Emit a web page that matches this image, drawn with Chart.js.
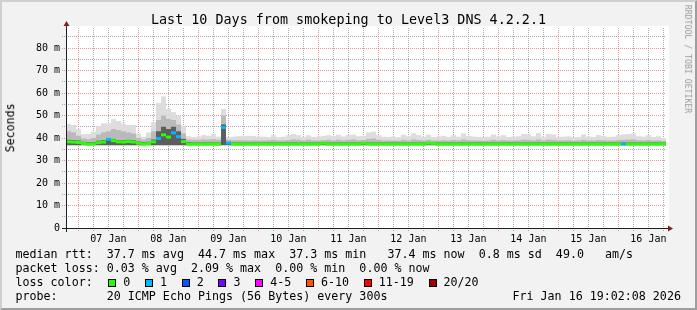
<!DOCTYPE html>
<html>
<head>
<meta charset="utf-8">
<script src="https://cdn.jsdelivr.net/npm/chart.js@4/dist/chart.umd.min.js"></script>
<style>
  body { margin: 0; background: #f2f2f2; }
  #wrap { position: relative; width: 697px; height: 310px; background: #f2f2f2; overflow: hidden; }
  #rrd { position: absolute; left: 0; top: 0; }
  #frame { position: absolute; left: 0; top: 0; width: 697px; height: 310px; box-sizing: border-box;
           border: 2px solid; border-color: #cfcfcf #9e9e9e #9e9e9e #cfcfcf; pointer-events: none; }
  .t { position: absolute; font-family: "DejaVu Sans Mono", monospace; font-size: 11.67px;
       line-height: 1; white-space: pre; color: #000; }
  .box { position: absolute; width: 8px; height: 8px; box-sizing: border-box; border: 1px solid #000; }
</style>
</head>
<body>
<div id="wrap">
  <canvas id="rrd" width="697" height="310"></canvas>
  <div class="t" style="left:0;top:12.7px;width:697px;text-align:center;font-size:13.4px">Last 10 Days from smokeping to Level3 DNS 4.2.2.1</div>
  <div class="t" style="left:-89px;top:122.2px;width:200px;text-align:center;transform:rotate(-90deg)">Seconds</div>
  <div class="t" style="left:587.8px;top:54.9px;width:200px;text-align:center;font-size:8.2px;color:#9a9a9a;transform:rotate(90deg)">RRDTOOL / TOBI OETIKER</div>
  <div class="t" style="left:15.5px;top:248.7px">median rtt:  37.7 ms avg  44.7 ms max  37.3 ms min   37.4 ms now  0.8 ms sd  49.0   am/s</div>
  <div class="t" style="left:15.5px;top:262.7px">packet loss: 0.03 % avg  2.09 % max  0.00 % min  0.00 % now</div>
  <div class="t" style="left:15.5px;top:276.7px">loss color:</div>
  <div id="lossLegend"></div>
  <div class="t" style="left:15.5px;top:290.7px">probe:       20 ICMP Echo Pings (56 Bytes) every 300s</div>
  <div class="t" style="left:512.5px;top:290.7px">Fri Jan 16 19:02:08 2026</div>
  <div id="frame"></div>
</div>
<script>
// 2 hour bins, starting Jan 6 19:02:08
const binHours = 2;
const firstMidnight = 4.964; // hours from start to Jan 7 00:00
const dayLabels = ['07 Jan', '08 Jan', '09 Jan', '10 Jan', '11 Jan', '12 Jan', '13 Jan', '14 Jan', '15 Jan', '16 Jan'];
const yTicks = [0, 10, 20, 30, 40, 50, 60, 70, 80];
const yMinorTicks = [5, 15, 25, 35, 45, 55, 65, 75, 85];
const yMax = 88.9;
const minRtt = 36.8;

// median rtt (ms)
const median = [
  38.3, 38.2, 38.0, 37.6, 37.3, 37.4, 37.9, 38.2, 39.4, 38.8,
  38.3, 38.2, 38.4, 38.2, 37.7, 37.4, 37.5, 38.3, 39.8, 41.4,
  40.4, 42.3, 40.6, 38.4, 37.3, 37.3, 37.3, 37.3, 37.3, 37.3,
  37.3, 44.7, 37.8, 37.3, 37.3, 37.3, 37.3, 37.3, 37.3, 37.3,
  37.3, 37.3, 37.3, 37.3, 37.3, 37.3, 37.3, 37.3, 37.3, 37.3,
  37.3, 37.7, 37.3, 37.3, 37.3, 37.3, 37.3, 37.3, 37.3, 37.7,
  37.3, 37.3, 37.3, 37.3, 37.3, 37.3, 37.3, 37.3, 37.3, 37.3,
  37.3, 37.3, 37.7, 37.6, 37.3, 37.3, 37.3, 37.3, 37.3, 37.3,
  37.3, 37.3, 37.3, 37.3, 37.3, 37.3, 37.3, 37.3, 37.3, 37.3,
  37.3, 37.3, 37.3, 37.3, 37.3, 37.3, 37.3, 37.3, 37.3, 37.3,
  37.3, 37.3, 37.3, 37.3, 37.3, 37.3, 37.3, 37.3, 37.3, 37.3,
  37.3, 37.3, 37.3, 37.3, 37.3, 37.3, 37.3, 37.3, 37.3, 37.4
];

// loss colour class per bin (index into lossColors)
const loss = [
  0, 0, 0, 0, 0, 0, 0, 0, 1, 0,
  0, 0, 0, 0, 0, 0, 0, 0, 1, 0,
  0, 1, 1, 0, 0, 0, 0, 0, 0, 0,
  0, 1, 1, 0, 0, 0, 0, 0, 0, 0,
  0, 0, 0, 0, 0, 0, 0, 0, 0, 0,
  0, 0, 0, 0, 0, 0, 0, 0, 0, 0,
  0, 0, 0, 0, 0, 0, 0, 0, 0, 0,
  0, 0, 0, 0, 0, 0, 0, 0, 0, 0,
  0, 0, 0, 0, 0, 0, 0, 0, 0, 0,
  0, 0, 0, 0, 0, 0, 0, 0, 0, 0,
  0, 0, 0, 0, 0, 0, 0, 0, 0, 0,
  0, 1, 0, 0, 0, 0, 0, 0, 0, 0
];

// smoke: top of lightest band (max ping)
const smokeMax = [
  46.3, 45.8, 44.0, 41.7, 41.8, 42.8, 45.3, 46.5, 46.5, 48.4,
  47.6, 46.5, 45.8, 45.8, 42.0, 40.6, 42.5, 47.0, 55.5, 58.5,
  53.0, 51.5, 50.0, 45.5, 40.8, 40.5, 40.6, 41.3, 41.0, 41.8,
  40.6, 53.0, 40.4, 40.6, 40.8, 41.0, 41.0, 40.9, 40.6, 40.6,
  40.4, 41.3, 40.4, 40.6, 41.3, 41.8, 41.3, 40.5, 41.2, 40.5,
  40.6, 40.9, 41.3, 40.8, 41.5, 40.7, 41.4, 41.5, 40.8, 41.0,
  42.5, 42.8, 41.3, 40.6, 40.5, 40.6, 40.4, 41.5, 40.8, 42.1,
  41.3, 40.6, 41.5, 40.5, 40.6, 40.9, 40.5, 41.3, 40.6, 42.1,
  41.0, 40.7, 40.5, 40.4, 40.6, 41.6, 40.7, 41.3, 40.5, 40.6,
  40.8, 41.8, 41.6, 40.8, 42.2, 40.6, 41.8, 41.6, 40.5, 40.6,
  40.8, 40.4, 40.5, 41.6, 40.6, 40.5, 41.3, 40.9, 40.5, 40.6,
  41.3, 41.6, 41.8, 42.1, 40.8, 40.6, 41.3, 40.5, 40.8, 40.0
];

// smoke: top of medium band
const smokeMid = [
  43.0, 42.5, 41.0, 39.8, 39.5, 40.0, 41.5, 42.5, 43.0, 44.0,
  43.5, 43.0, 42.5, 42.0, 40.0, 39.3, 40.0, 43.0, 48.0, 50.0,
  48.5, 48.0, 46.0, 42.0, 39.3, 39.2, 39.2, 39.4, 39.3, 39.5,
  39.2, 50.0, 39.2, 39.0, 39.1, 39.0, 38.9, 39.0, 38.9, 38.9,
  39.0, 39.2, 38.9, 38.9, 39.1, 39.4, 39.2, 38.9, 39.3, 38.9,
  38.9, 39.0, 39.2, 38.9, 39.3, 38.9, 39.2, 39.4, 39.0, 39.1,
  39.6, 39.8, 39.2, 38.9, 38.9, 38.9, 38.8, 39.2, 38.9, 39.4,
  39.1, 38.9, 39.2, 38.9, 38.9, 39.0, 38.9, 39.1, 38.9, 39.4,
  39.0, 38.9, 38.9, 38.8, 38.9, 39.2, 38.9, 39.1, 38.9, 38.9,
  39.0, 39.3, 39.2, 38.9, 39.4, 38.9, 39.3, 39.2, 38.9, 38.9,
  39.0, 38.8, 38.9, 39.2, 38.9, 38.9, 39.1, 39.0, 38.9, 38.9,
  39.1, 39.2, 39.3, 39.4, 39.0, 38.9, 39.1, 38.9, 39.0, 38.7
];

// smoke: top of dark band
const smokeDark = [
  39.2, 39.1, 38.9, 38.3, 38.1, 38.2, 38.8, 39.1, 40.0, 39.6,
  39.1, 39.0, 39.2, 39.0, 38.4, 38.2, 38.3, 39.3, 43.0, 45.0,
  44.0, 45.0, 43.0, 39.6, 38.2, 38.0, 38.0, 38.0, 38.0, 38.0,
  38.0, 46.0, 38.2, 38.0, 38.0, 38.0, 38.0, 38.0, 38.0, 38.0,
  38.0, 38.0, 38.0, 38.0, 38.0, 38.0, 38.0, 38.0, 38.0, 38.0,
  38.0, 38.0, 38.0, 38.0, 38.0, 38.0, 38.0, 38.0, 38.0, 38.0,
  38.0, 38.0, 38.0, 38.0, 38.0, 38.0, 38.0, 38.0, 38.0, 38.0,
  38.0, 38.0, 38.0, 38.0, 38.0, 38.0, 38.0, 38.0, 38.0, 38.0,
  38.0, 38.0, 38.0, 38.0, 38.0, 38.0, 38.0, 38.0, 38.0, 38.0,
  38.0, 38.0, 38.0, 38.0, 38.0, 38.0, 38.0, 38.0, 38.0, 38.0,
  38.0, 38.0, 38.0, 38.0, 38.0, 38.0, 38.0, 38.0, 38.0, 38.0,
  38.0, 38.0, 38.0, 38.0, 38.0, 38.0, 38.0, 38.0, 38.0, 38.0
];

const lossLabels = ['0', '1', '2', '3', '4-5', '6-10', '11-19', '20/20'];
const lossColors = ['#26ff00', '#00b8ff', '#0059ff', '#7e00ff', '#ff00ff', '#ff5500', '#ff0000', '#a10000'];

const MGRID = 'rgba(222,79,79,0.6)';
const GRID = 'rgba(143,143,143,0.75)';
const tickFont = { family: 'DejaVu Sans Mono', size: 10 };

// loss colour legend
const legendEl = document.getElementById('lossLegend');
let lx = 108.3;
lossLabels.forEach((lab, i) => {
    const b = document.createElement('div');
    b.className = 'box';
    b.style.left = lx + 'px';
    b.style.top = '278.5px';
    b.style.background = lossColors[i];
    legendEl.appendChild(b);
    const t = document.createElement('div');
    t.className = 't';
    t.style.left = (lx + 15) + 'px';
    t.style.top = '276.7px';
    t.textContent = lab;
    legendEl.appendChild(t);
    lx += 15 + 7.02 * lab.length + 14.7;
});

const binTimes = median.map((_, i) => i * binHours + binHours / 2);
const band = (tops) => tops.map((v, i) => ({ x: binTimes[i], y: [minRtt, v] }));

// white canvas, axes and arrows like rrdtool
const rrdFrame = {
    id: 'rrdFrame',
    beforeDraw(chart) {
        const { ctx, chartArea: a } = chart;
        ctx.save();
        ctx.fillStyle = '#ffffff';
        ctx.fillRect(a.left, a.top - 2, a.right - a.left + 3, a.bottom - a.top + 2);
        ctx.restore();
    },
    afterDraw(chart) {
        const { ctx, chartArea: a } = chart;
        ctx.save();
        ctx.strokeStyle = '#1f1f1f';
        ctx.lineWidth = 1;
        ctx.beginPath();
        ctx.moveTo(a.left + 0.5, a.top - 2);
        ctx.lineTo(a.left + 0.5, a.bottom + 4);
        ctx.moveTo(a.left - 4, a.bottom + 0.5);
        ctx.lineTo(a.right + 2, a.bottom + 0.5);
        ctx.stroke();
        ctx.fillStyle = '#801f1f';
        ctx.beginPath();
        ctx.moveTo(a.left + 0.5, a.top - 7);
        ctx.lineTo(a.left + 3.5, a.top - 2);
        ctx.lineTo(a.left - 2.5, a.top - 2);
        ctx.closePath();
        ctx.fill();
        ctx.beginPath();
        ctx.moveTo(a.right + 7, a.bottom + 0.5);
        ctx.lineTo(a.right + 2, a.bottom - 2.5);
        ctx.lineTo(a.right + 2, a.bottom + 3.5);
        ctx.closePath();
        ctx.fill();
        ctx.restore();
    }
};

const ctx = document.getElementById('rrd').getContext('2d');
const rrdChart = new Chart(ctx, {
    type: 'bar',
    data: {
        datasets: [
            {
                label: 'median rtt',
                data: median.map((v, i) => ({ x: binTimes[i], y: [v - 0.67, v + 0.67] })),
                backgroundColor: loss.map(l => lossColors[l]),
                order: 0,
            },
            { label: 'smoke dark', data: band(smokeDark), backgroundColor: '#5e5e5e', order: 1 },
            { label: 'smoke mid', data: band(smokeMid), backgroundColor: '#bababa', order: 2 },
            { label: 'smoke light', data: band(smokeMax), backgroundColor: '#dddddd', order: 3 },
        ],
    },
    options: {
        responsive: false,
        animation: false,
        devicePixelRatio: 1,
        layout: { padding: { left: 0, top: 28, right: 31, bottom: 62 } },
        datasets: {
            bar: { grouped: false, barPercentage: 1, categoryPercentage: 1, borderWidth: 0, inflateAmount: 0 },
        },
        plugins: {
            legend: { display: false },
            tooltip: { enabled: false },
            title: { display: false },
        },
        scales: {
            x: {
                type: 'linear', position: 'bottom', weight: 1, min: 0, max: 240, offset: false,
                afterBuildTicks: s => { s.ticks = dayLabels.map((_, k) => ({ value: firstMidnight + 24 * k + 12 })); },
                afterFit: s => { s.height = 20; },
                ticks: {
                    autoSkip: false, maxRotation: 0, padding: 5, font: tickFont, color: '#000',
                    callback: (v, i) => dayLabels[i],
                },
                grid: { display: false, drawTicks: false, tickLength: 0, offset: false },
                border: { display: false },
            },
            xMajor: {
                type: 'linear', position: 'bottom', weight: 0, min: 0, max: 240, offset: false,
                afterBuildTicks: s => { s.ticks = dayLabels.map((_, k) => ({ value: firstMidnight + 24 * k })); },
                afterFit: s => { s.height = 0; },
                ticks: { display: false, autoSkip: false },
                grid: { offset: false, color: MGRID, tickColor: MGRID, tickLength: 4, borderDash: [1, 1], tickBorderDash: [1, 1] },
                border: { display: false, dash: [1, 1] },
            },
            xMinor: {
                type: 'linear', position: 'bottom', weight: 0, min: 0, max: 240, offset: false,
                afterBuildTicks: s => {
                    const t = [];
                    for (let j = 0; firstMidnight + 6 * j <= 240; j++) {
                        if (j % 4 !== 0) t.push({ value: firstMidnight + 6 * j });
                    }
                    s.ticks = t;
                },
                afterFit: s => { s.height = 0; },
                ticks: { display: false, autoSkip: false },
                grid: { offset: false, color: GRID, tickColor: GRID, tickLength: 3, borderDash: [1, 1], tickBorderDash: [1, 1] },
                border: { display: false, dash: [1, 1] },
            },
            y: {
                type: 'linear', position: 'left', weight: 1, min: 0, max: yMax,
                afterBuildTicks: s => { s.ticks = yTicks.map(v => ({ value: v })); },
                afterFit: s => { s.width = 66; },
                ticks: {
                    autoSkip: false, padding: 2, font: tickFont, color: '#000',
                    callback: v => (v === 0 ? '0' : v + ' m'),
                },
                grid: { color: MGRID, tickColor: MGRID, tickLength: 4, borderDash: [1, 1], tickBorderDash: [1, 1] },
                border: { display: false, dash: [1, 1] },
            },
            yMinor: {
                type: 'linear', position: 'left', weight: 0, min: 0, max: yMax,
                afterBuildTicks: s => { s.ticks = yMinorTicks.map(v => ({ value: v })); },
                afterFit: s => { s.width = 0; },
                ticks: { display: false, autoSkip: false },
                grid: { color: GRID, tickColor: GRID, tickLength: 4, borderDash: [1, 1], tickBorderDash: [1, 1] },
                border: { display: false, dash: [1, 1] },
            },
        },
    },
    plugins: [rrdFrame],
});
</script>
</body>
</html>
